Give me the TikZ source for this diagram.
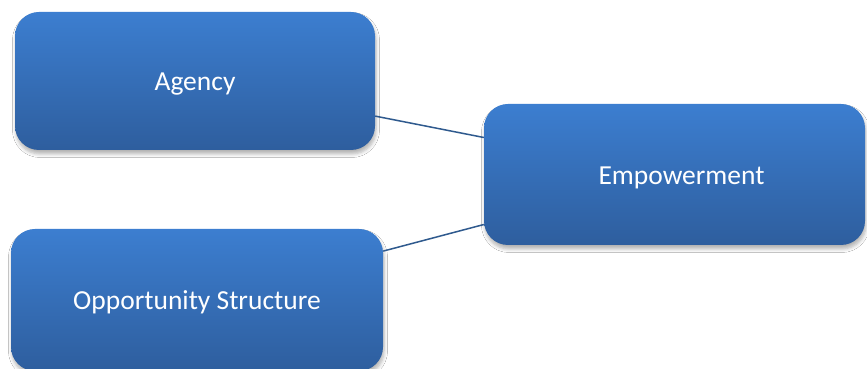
\documentclass[tikz,border=0pt]{standalone}
\usepackage{fontspec}
\setmainfont{Carlito}
\usetikzlibrary{shadows.blur}
\definecolor{boxtop}{HTML}{3C7ED0}
\definecolor{boxbot}{HTML}{2E5E9E}
\definecolor{linkcol}{HTML}{2F5A8E}
\newcommand{\lowertext}[2]{\raisebox{-#1}[\height][\depth]{#2}}
\tikzset{
  blockbox/.style={rectangle, rounded corners=24pt, top color=boxtop, bottom color=boxbot,
    draw=none, text=white, font=\fontsize{27.5}{33}\selectfont, inner sep=0pt,
    blur shadow={shadow xshift=1pt, shadow yshift=-4pt, shadow blur steps=6, shadow opacity=30, shadow blur radius=3.5pt}},
  link/.style={draw=linkcol, line width=1.5pt}
}
\begin{document}
\begin{tikzpicture}[x=1pt,y=1pt]
\useasboundingbox (0,0) rectangle (867,369);
\clip (0,0) rectangle (867,369);
\fill[white] (0,0) rectangle (867,369);
\node[blockbox, minimum width=360pt, minimum height=138pt] (a) at (195,288) {\lowertext{3pt}{Agency}};
\node[blockbox, minimum width=381pt, minimum height=141pt] (e) at (674.5,194.5) {\lowertext{3pt}{\hspace*{14pt}Empowerment}};
\node[blockbox, minimum width=372pt, minimum height=142pt] (o) at (197,69) {\lowertext{2pt}{Opportunity Structure}};
\draw[link] (a) -- (e);
\draw[link] (o) -- (e);
\end{tikzpicture}
\end{document}
